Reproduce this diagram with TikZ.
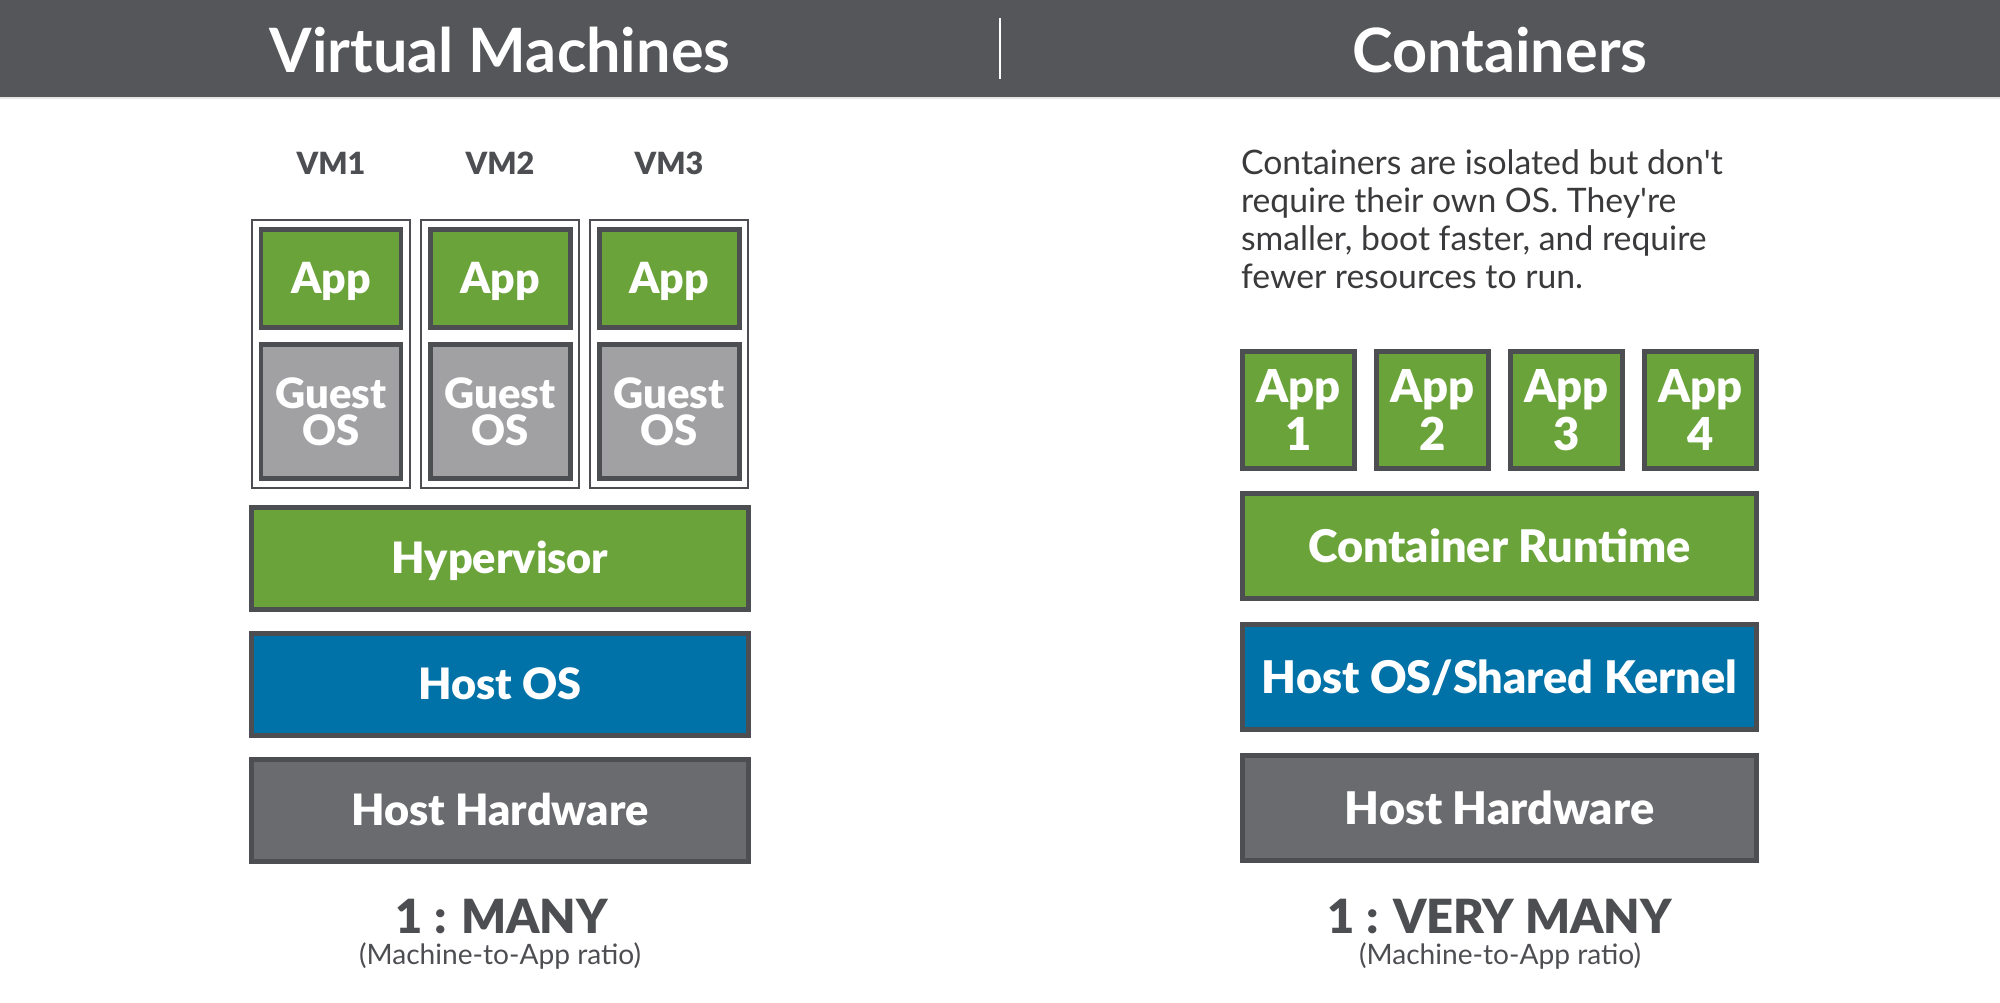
\documentclass[tikz,border=0pt]{standalone}
\usepackage{fontspec}
\setmainfont{Lato}
\newfontfamily\heavyfont{Lato Black}
\usepackage{tikz}
\usetikzlibrary{positioning}

\definecolor{barGray}{RGB}{85,86,90}
\definecolor{edgeGray}{RGB}{77,78,82}
\definecolor{appGreen}{RGB}{106,163,57}
\definecolor{osBlue}{RGB}{0,114,168}
\definecolor{hwGray}{RGB}{106,107,111}
\definecolor{guestGray}{RGB}{161,161,163}
\definecolor{textGray}{RGB}{77,78,82}
\definecolor{noteGray}{RGB}{58,58,60}

\begin{document}
\begin{tikzpicture}[semithick, node distance = 1.26cm, on grid,                       % Stack spacing
    box/.style     = {draw=edgeGray, line width=1.42pt, inner sep=0pt, text=white},    % Framed blocks
    layer/.style   = {box, minimum width=4.97cm, minimum height=1.02cm,
                      text height=0.31cm, text depth=0pt, font=\heavyfont\fontsize{12.3}{13}\selectfont},
    wide/.style    = {layer, minimum width=5.14cm, minimum height=1.05cm,
                      text height=0.323cm, font=\heavyfont\fontsize{12.8}{14}\selectfont},
    app/.style     = {box, fill=appGreen, minimum width=1.40cm, minimum height=0.98cm,
                      text height=0.307cm, text depth=0pt, font=\heavyfont\fontsize{12.2}{13}\selectfont},
    guest/.style   = {box, fill=guestGray, minimum width=1.40cm, minimum height=1.34cm, align=center,
                      font=\heavyfont\fontsize{11.9}{10.6}\selectfont},
    cont/.style    = {box, fill=appGreen, minimum width=1.12cm, minimum height=1.17cm, align=center,
                      font=\heavyfont\fontsize{12.9}{13.6}\selectfont},
    vm/.style      = {draw=edgeGray, line width=0.6pt, minimum width=1.58cm, minimum height=2.68cm, inner sep=0pt},
    heading/.style = {text=white, inner sep=0pt, anchor=base, font=\bfseries\fontsize{17.4}{20}\selectfont},
    vmname/.style  = {text=textGray, inner sep=0pt, anchor=base, font=\heavyfont\fontsize{8.7}{11}\selectfont},
    ratiotext/.style = {vmname, font=\heavyfont\fontsize{13.4}{14}\selectfont},
    ratiosub/.style  = {vmname, font=\fontsize{8}{9}\selectfont},
    desc/.style    = {text=noteGray, inner sep=0pt, anchor=base west, align=left,
                      font=\fontsize{9.6}{10.9}\selectfont}]
    \useasboundingbox (0,0) rectangle (20,-10.03);

    % header bar
    \fill[barGray] (0,0) rectangle (20,-0.97);
    \fill[black!10] (0,-0.97) rectangle (20,-0.99);
    \draw[white, line width=0.6pt] (10,-0.18) -- (10,-0.79);
    \node[heading] (VMT) at (5.00,-0.73) {Virtual Machines};
    \node[heading] (CT) at (15.00,-0.73) {Containers};

    % virtual machines
    \node[vm] (VM2) at (5.00,-3.54) {};
    \node[vm] (VM1) [left=1.69cm of VM2] {};
    \node[vm] (VM3) [right=1.69cm of VM2] {};
    \node[vmname] (N1) at (3.31,-1.75) {VM1};
    \node[vmname] (N2) at (5.00,-1.75) {VM2};
    \node[vmname] (N3) at (6.69,-1.75) {VM3};
    \node[app] (A1) [above=0.755cm of VM1] {App};
    \node[app] (A2) [above=0.755cm of VM2] {App};
    \node[app] (A3) [above=0.755cm of VM3] {App};
    \node[guest] (G1) [below=0.575cm of VM1] {Guest\\OS};
    \node[guest] (G2) [below=0.575cm of VM2] {Guest\\OS};
    \node[guest] (G3) [below=0.575cm of VM3] {Guest\\OS};
    \node[layer, fill=appGreen] (HV) at (5.00,-5.585) {Hypervisor};
    \node[layer, fill=osBlue] (HOS) [below=of HV] {Host OS};
    \node[layer, fill=hwGray] (HHW) [below=of HOS] {Host Hardware};
    \node[ratiotext] (R1) at (5.02,-9.34) {1 : MANY};
    \node[ratiosub] (S1) at (5.00,-9.65) {(Machine-to-App ratio)};

    % containers
    \node[desc] (D) at (12.40,-2.89) {Containers are isolated but don\textquotesingle t\\
        require their own OS. They\textquotesingle re\\smaller, boot faster, and require\\
        fewer resources to run.};
    \node[cont] (C1) at (12.985,-4.10) {App\\1};
    \node[cont] (C2) [right=1.34cm of C1] {App\\2};
    \node[cont] (C3) [right=1.34cm of C2] {App\\3};
    \node[cont] (C4) [right=1.34cm of C3] {App\\4};
    \node[wide, fill=appGreen] (CR) at (14.995,-5.46) {Container Runtime};
    \node[wide, fill=osBlue] (KER) [below=1.315cm of CR] {Host OS/Shared Kernel};
    \node[wide, fill=hwGray] (CHW) [below=1.31cm of KER] {Host Hardware};
    \node[ratiotext] (R2) at (15.00,-9.34) {1 : VERY MANY};
    \node[ratiosub] (S2) at (15.00,-9.645) {(Machine-to-App ratio)};
\end{tikzpicture}
\end{document}
